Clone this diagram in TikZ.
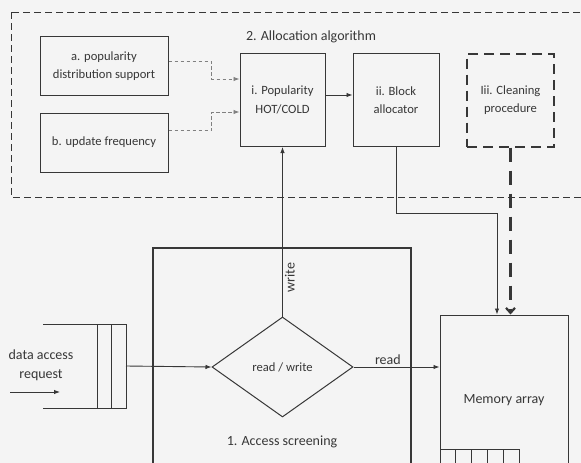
\documentclass[tikz,border=0pt]{standalone}
\usepackage{fontspec}
\setmainfont{Carlito}
\usetikzlibrary{shapes.geometric,arrows.meta}
\definecolor{paper}{RGB}{244,244,244}
\definecolor{ink}{RGB}{55,55,55}
\tikzset{
  box/.style={draw=ink,line width=1pt,minimum width=#1,align=center},
  big/.style={font=\fontsize{14}{19}\selectfont},
  conn/.style={draw=ink,line width=0.9pt,-{Latex[length=6pt,width=4.5pt]}},
  hint/.style={draw=gray,line width=0.9pt,dash pattern=on 3.5pt off 2.5pt,-{Latex[length=6pt,width=4.5pt]}},
}

\begin{document}
\begin{tikzpicture}[x=1pt,y=-1pt,font=\fontsize{12.6}{18.5}\selectfont,text=ink]
  \useasboundingbox (0,0) rectangle (581,463);
  \fill[paper] (0,0) rectangle (581,463);
  \clip (0,0) rectangle (581,463);

  % allocation stage
  \draw[ink,line width=1pt,dash pattern=on 7pt off 4pt] (11,12) rectangle (600,197);
  \node[big] (title) at (311,37) {2. Allocation algorithm};
  \node[box=128pt,minimum height=59pt] (pop) at (104,66) {a. popularity\\distribution support};
  \node[box=128pt,minimum height=59pt] (upd) at (104,142.5) {b. update frequency};
  \node[box=85pt,minimum height=93pt] (hot) at (282.5,100) {i. Popularity\\HOT/COLD};
  \node[box=86pt,minimum height=93pt] (blk) at (396,100) {ii. Block\\allocator};
  \node[box=87pt,minimum height=93pt,line width=2pt,dash pattern=on 10pt off 6pt] (cln) at (510.5,100) {Iii. Cleaning\\procedure};

  % access stage
  \node[draw=ink,line width=1.5pt,minimum width=258pt,minimum height=232pt] (scr) at (282,364) {};
  \node[big] (scrlabel) at (282,442) {1. Access screening};
  \node[draw=ink,line width=1pt,shape=diamond,minimum width=141pt,minimum height=100pt,inner sep=0pt] (dia) at (282.5,367) {read / write};
  \node[box=128pt,minimum height=170pt,big] (mem) at (504,400) {Memory array};
  \foreach \k in {0,...,4}
    \draw[ink,line width=0.8pt] (440+\k*15.8,449) rectangle ++(15.8,30);

  % request queue
  \draw[ink,line width=1pt] (43,324) -- (126,324) -- (126,408) -- (43,408);
  \draw[ink,line width=1pt] (97,324) -- (97,408) (111,324) -- (111,408);
  \coordinate (q) at (126,366);
  \node[align=center,big] (req) at (41,365) {data access\\request};
  \coordinate (in) at (10,392);

  % connectors
  \draw[hint] ([yshift=5pt]pop.east) -- ++(43,0) |- ([yshift=21pt]hot.west);
  \draw[hint] ([yshift=12pt]upd.east) -- ++(43,0) |- ([yshift=-12pt]hot.west);
  \draw[conn] ([yshift=5pt]hot.east) -- ([yshift=5pt]blk.west);
  \draw[conn] (in) -- ++(50,0);
  \draw[conn] (q) -- (dia.west);
  \draw[conn] (dia.north) -- node[pos=0.23,rotate=90,anchor=north,inner sep=2pt,big] {write} (hot.south);
  \draw[conn] (dia.east) -- node[above,pos=0.4,inner sep=2pt,big] {read} (dia.east -| mem.west);
  \draw[conn] (blk.south) -- ++(0,66) -| ([xshift=-7pt]mem.north);
  \draw[ink,line width=2.2pt,dash pattern=on 14pt off 9pt,-{Straight Barb[length=5pt,width=9pt]}] (cln.south) -- (cln.south |- mem.north);
\end{tikzpicture}
\end{document}
